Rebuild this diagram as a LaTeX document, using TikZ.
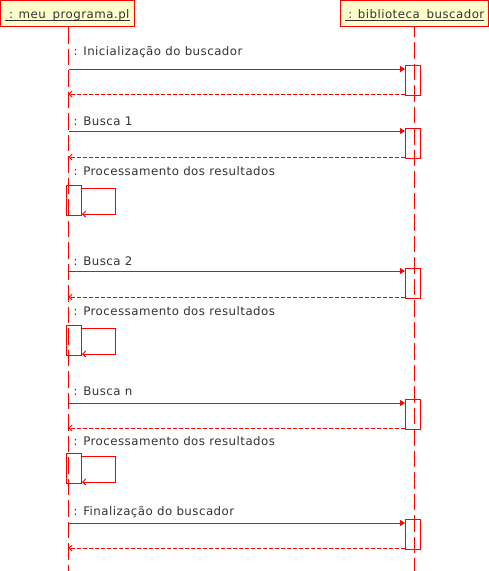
\documentclass[tikz,border=0pt]{standalone}
\usepackage{fontspec}
\setmainfont{DejaVu Sans}
\newfontfamily\umlfam{DejaVu Sans}[LetterSpace=4]
\usetikzlibrary{arrows.meta}
\definecolor{uml}{HTML}{FF0000}
\definecolor{hdr}{HTML}{FFFFCC}
\definecolor{txt}{HTML}{333333}
\begin{document}
\begin{tikzpicture}[x=1pt,y=-1pt,
  umlfont/.style={font=\umlfam\fontsize{11.8}{14}\selectfont},
  hdrbox/.style={draw=uml, fill=hdr, line width=1pt, inner sep=0pt},
  hdrtext/.style={umlfont, text=txt, inner sep=0pt, anchor=base},
  underl/.style={draw=txt, line width=0.8pt},
  lifeline/.style={draw=uml, line width=1pt, dash pattern=on 16.5pt off 5pt},
  actbox/.style={draw=uml, line width=1pt, minimum width=15pt, inner sep=0pt},
  callmsg/.style={draw=uml, line width=1pt, -{Triangle[length=5pt,width=6pt]}},
  retmsg/.style={draw=uml, line width=1pt, dash pattern=on 4pt off 2pt, -{Straight Barb[length=3pt,width=6pt,line width=0.9pt]}},
  selfmsg/.style={draw=uml, line width=1pt, -{Straight Barb[length=3pt,width=6pt,line width=0.9pt]}},
  lbl/.style={umlfont, text=txt, inner sep=0pt, anchor=base west}]
\useasboundingbox (0,0) rectangle (489,571);
% headers
\node[hdrbox, minimum width=134pt, minimum height=26pt] (hA) at (67.5,13.5) {};
\node[hdrbox, minimum width=148pt, minimum height=26pt] (hB) at (414.5,13.5) {};
\node[hdrtext] (tA) at (67.5,18.3) {\strut\hspace{0.3em}: meu\_programa.pl};
\node[hdrtext] (tB) at (414.5,18.3) {\strut\hspace{0.3em}: biblioteca\_buscador};
\draw[underl] ([yshift=-1.8pt]tA.base west) -- ([yshift=-1.8pt]tA.base east);
\draw[underl] ([yshift=-1.8pt]tB.base west) -- ([yshift=-1.8pt]tB.base east);
% lifelines
\coordinate (lA0) at (68.5,27);
\coordinate (lA1) at (68.5,571);
\coordinate (lB0) at (414.5,27);
\coordinate (lB1) at (414.5,571);
\draw[lifeline] (lA0) -- (lA1);
\draw[lifeline, dash phase=6.5pt] (lB0) -- (lB1);
% activation boxes (callee)
\node[actbox, minimum height=30pt] (a1) at (413,80.5) {};
\node[actbox, minimum height=30pt] (a2) at (413,143.5) {};
\node[actbox, minimum height=30pt] (a3) at (413,283.5) {};
\node[actbox, minimum height=30pt] (a4) at (413,414.5) {};
\node[actbox, minimum height=30pt] (a5) at (413,534.5) {};
% self activations
\node[actbox, minimum height=30pt] (s1) at (74,200.5) {};
\node[actbox, minimum height=30pt] (s2) at (74,340.5) {};
\node[actbox, minimum height=30pt] (s3) at (74,468.5) {};
% message points on caller lifeline
\coordinate (c1) at (68.5,69);   \coordinate (r1) at (68.5,94);
\coordinate (c2) at (68.5,131);  \coordinate (r2) at (68.5,157);
\coordinate (c3) at (68.5,271);  \coordinate (r3) at (68.5,297);
\coordinate (c4) at (68.5,403);  \coordinate (r4) at (68.5,428);
\coordinate (c5) at (68.5,523);  \coordinate (r5) at (68.5,548);
% calls and returns
\foreach \i in {1,...,5}{
  \draw[callmsg] (c\i) -- (a\i.west |- c\i);
  \draw[retmsg] (a\i.west |- r\i) -- (r\i);
}
% self calls
\foreach \i in {1,2,3}{
  \coordinate (sl\i) at ([yshift=-3pt]s\i.north east);
  \coordinate (sr\i) at ([yshift=2pt]s\i.south east);
  \draw[selfmsg] (sl\i) -- (115,0 |- sl\i) -- (115,0 |- sr\i) -- (sr\i);
}
% labels
\node[lbl] (m1) at (73.5,55) {: Inicialização do buscador};
\node[lbl] (m2) at (73.5,125) {: Busca 1};
\node[lbl] (m3) at (73.5,175) {: Processamento dos resultados};
\node[lbl] (m4) at (73.5,265) {: Busca 2};
\node[lbl] (m5) at (73.5,315) {: Processamento dos resultados};
\node[lbl] (m6) at (73.5,395) {: Busca n};
\node[lbl] (m7) at (73.5,445) {: Processamento dos resultados};
\node[lbl] (m8) at (73.5,515) {: Finalização do buscador};
\end{tikzpicture}
\end{document}
